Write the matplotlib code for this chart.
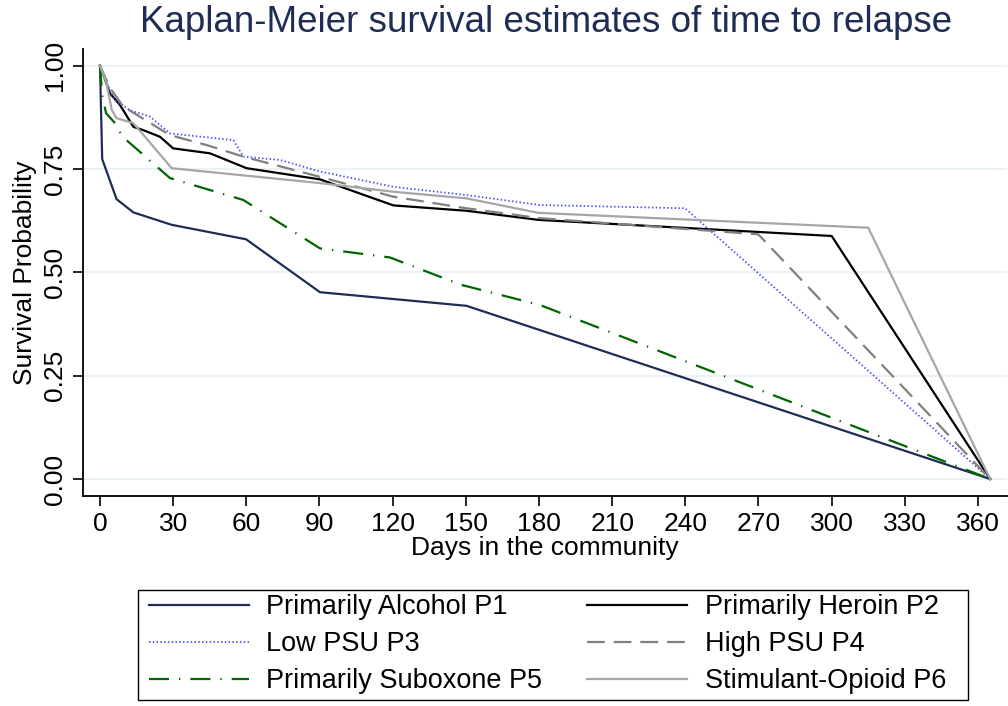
import numpy as np
import matplotlib
matplotlib.use("Agg")
import matplotlib.pyplot as plt
from matplotlib.patches import Rectangle

plt.rcParams['font.family'] = ['Liberation Sans', 'DejaVu Sans']

# Kaplan-Meier curves (days, survival)
p1_days = [0, 0.9, 6.8, 13.7, 29.4, 59.9, 90.2, 150.3, 365]
p1_surv = [1.0, 0.774, 0.677, 0.645, 0.615, 0.580, 0.452, 0.419, 0.0]

p2_days = [0, 4.1, 8.2, 13.7, 17.8, 24.6, 30.0, 45.1, 60.1, 90.2, 120.3, 150.3, 179.7, 300, 365]
p2_surv = [1.0, 0.933, 0.905, 0.852, 0.844, 0.828, 0.800, 0.788, 0.752, 0.725, 0.662, 0.649, 0.627, 0.588, 0.0]

p3_days = [0, 4.1, 6.2, 12.3, 20.5, 28.7, 54.7, 58.8, 73.8, 90.2, 120.3, 150.3, 180.4, 239.9, 365]
p3_surv = [1.0, 0.940, 0.916, 0.892, 0.877, 0.836, 0.820, 0.780, 0.772, 0.744, 0.707, 0.687, 0.663, 0.655, 0.0]

p4_days = [0, 4.1, 9.6, 28.7, 43.7, 58.8, 90.2, 120.3, 150.3, 180.4, 269.9, 365]
p4_surv = [1.0, 0.946, 0.901, 0.832, 0.808, 0.780, 0.731, 0.683, 0.655, 0.631, 0.592, 0.0]

p5_days = [0, 0.9, 2.5, 6.8, 8.9, 28.7, 58.8, 90.2, 118.9, 148.0, 180.4, 365]
p5_surv = [1.0, 0.928, 0.885, 0.857, 0.830, 0.728, 0.675, 0.558, 0.536, 0.470, 0.421, 0.0]

p6_days = [0, 2.7, 4.8, 6.8, 13.7, 29.4, 90.2, 120.3, 150.3, 179.7, 315, 365]
p6_surv = [1.0, 0.957, 0.893, 0.873, 0.861, 0.752, 0.716, 0.695, 0.679, 0.644, 0.608, 0.0]

x_ticks = list(range(0, 361, 30))
y_ticks = [0.0, 0.25, 0.5, 0.75, 1.0]

W, H = 1008, 706
fig = plt.figure(figsize=(W/100, H/100), dpi=100)
ax = fig.add_axes([83/W, 1-496/H, 924/W, 447/H])

ax.plot(p1_days, p1_surv, color='#1f2d55', lw=1.6, label='Primarily Alcohol P1')
ax.plot(p2_days, p2_surv, color='black', lw=1.6, label='Primarily Heroin P2')
ax.plot(p3_days, p3_surv, color='#4a4aff', lw=1.3, linestyle=(0, (0.8, 1.3)), label='Low PSU P3')
ax.plot(p4_days, p4_surv, color='#808080', lw=1.6, linestyle=(0, (8, 4)), label='High PSU P4')
ax.plot(p5_days, p5_surv, color='#006400', lw=1.6, linestyle=(0, (9, 4.5, 0.6, 4.5)), label='Primarily Suboxone P5')
ax.plot(p6_days, p6_surv, color='#a6a6a6', lw=1.6, label='Stimulant-Opioid P6')

ax.set_xlim(-6.97, 371.9)
ax.set_ylim(-0.0411, 1.0404)
ax.set_xticks(x_ticks)
ax.set_yticks(y_ticks)
ax.set_yticklabels(['%.2f' % v for v in y_ticks], rotation=90, va='center')
ax.grid(axis='y', color='#eaf2f3', lw=1.5, zorder=0)
ax.set_axisbelow(True)

for s in ['top', 'right']:
    ax.spines[s].set_visible(False)
for s in ['left', 'bottom']:
    ax.spines[s].set_linewidth(1.3)
ax.tick_params(axis='both', direction='out', length=7.5, width=1.2, labelsize=19, pad=4)

ax.set_xlabel('Days in the community', fontsize=19, labelpad=0)
ax.set_ylabel('Survival Probability', fontsize=19, labelpad=4)

fig.text(546/W, 1-22/H, 'Kaplan-Meier survival estimates of time to relapse',
         ha='center', va='center', fontsize=26.5, color='#1f2d55')

# legend box drawn separately so the entries can be placed freely
fig.patches.append(Rectangle((138/W, 1-700/H), 830/W, 110/H, transform=fig.transFigure,
                             fill=False, edgecolor='black', lw=1.0))

handles, labels = ax.get_legend_handles_labels()
order = [0, 2, 4, 1, 3, 5]
leg = fig.legend([handles[i] for i in order], [labels[i] for i in order],
                 loc='upper left', ncol=2, bbox_to_anchor=(149/W, 1-594/H),
                 fontsize=19.5, handlelength=3.7, handletextpad=0.63,
                 frameon=False, borderpad=0, borderaxespad=0,
                 labelspacing=0.41, columnspacing=1.66)

fig.savefig('out.png', dpi=100)
